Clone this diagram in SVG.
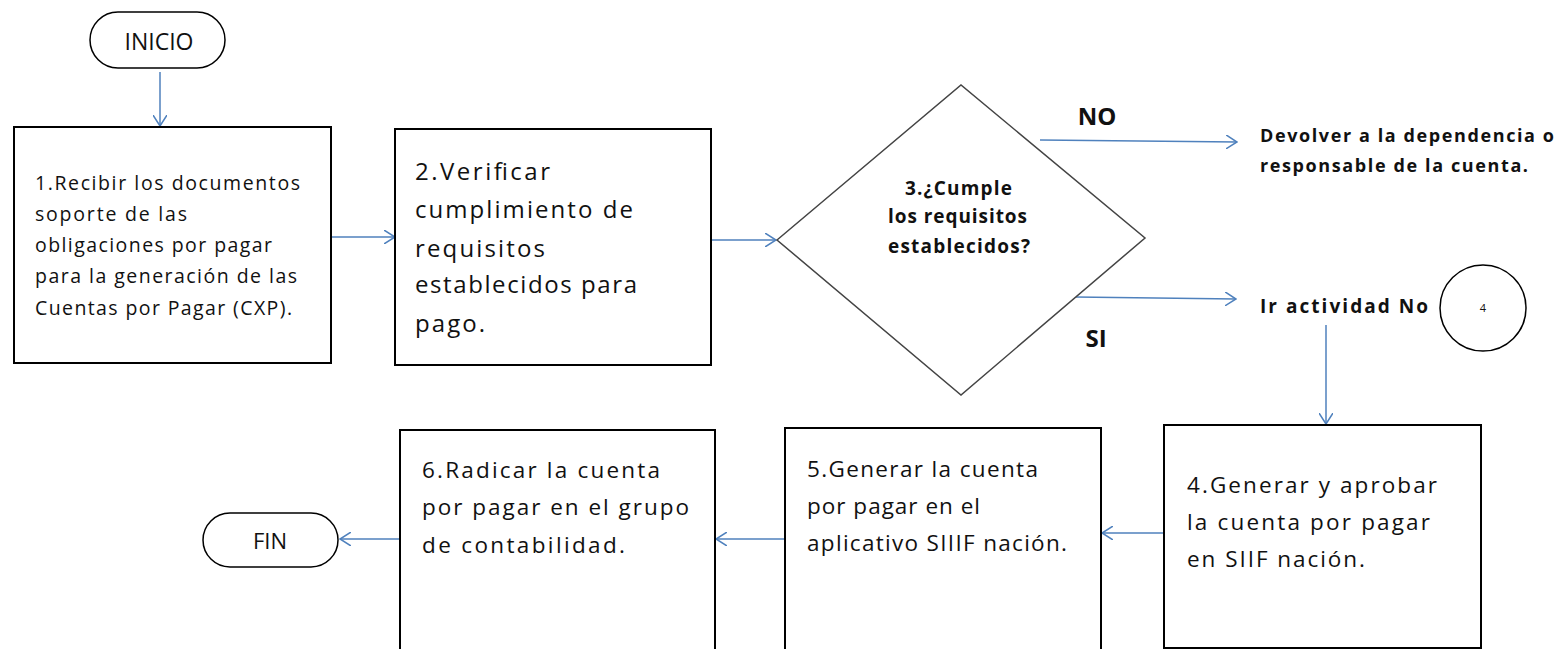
<svg xmlns="http://www.w3.org/2000/svg" width="1561" height="649" viewBox="0 0 1561 649">
<style>
.box{fill:#fff;stroke:#000;stroke-width:2}
.term{fill:#fff;stroke:#000;stroke-width:1.5}
.t{font-family:"Open Sans","Liberation Sans",Arial,sans-serif;fill:#111}
.b{font-family:"Open Sans","Liberation Sans",Arial,sans-serif;fill:#111;font-weight:bold}
.c{stroke:#4F81BD;stroke-width:1.5;fill:none;marker-end:url(#ah)}
</style>
<defs>
<marker id="ah" viewBox="0 0 12 14" refX="11" refY="7" markerWidth="12" markerHeight="14" markerUnits="userSpaceOnUse" orient="auto">
<path d="M0,0 L11,7 L0,14" fill="none" stroke="#4F81BD" stroke-width="1.5"/>
</marker>
</defs>
<g id="connectors">
<line class="c" x1="160" y1="72" x2="160" y2="126"/>
<line class="c" x1="331" y1="237" x2="395" y2="237"/>
<line class="c" x1="711" y1="240" x2="776" y2="240"/>
<line class="c" x1="1040" y1="140" x2="1237" y2="142"/>
<line class="c" x1="1075" y1="297" x2="1236" y2="299"/>
<line class="c" x1="1326" y1="325" x2="1326" y2="424"/>
<line class="c" x1="1164" y1="533" x2="1102" y2="533"/>
<line class="c" x1="785" y1="539" x2="716" y2="539"/>
<line class="c" x1="400" y1="539" x2="340" y2="539"/>
</g>
<g id="inicio">
<rect class="term" x="90" y="12" width="135" height="56" rx="28"/>
<text class="t" x="159" y="50" font-size="23" text-anchor="middle">INICIO</text>
</g>
<g id="n1">
<rect class="box" x="14" y="127" width="317" height="236"/>
<text class="t" font-size="19.5"><tspan x="35" y="190" textLength="265">1.Recibir los documentos</tspan><tspan x="35" y="221" textLength="152">soporte de las</tspan><tspan x="35" y="252" textLength="237">obligaciones por pagar</tspan><tspan x="35" y="283" textLength="262">para la generación de las</tspan><tspan x="35" y="315" textLength="257">Cuentas por Pagar (CXP).</tspan></text>
</g>
<g id="n2">
<rect class="box" x="395" y="129" width="316" height="236"/>
<text class="t" font-size="24"><tspan x="415" y="180" textLength="135">2.Verificar</tspan><tspan x="415" y="218" textLength="218">cumplimiento de</tspan><tspan x="415" y="257" textLength="130">requisitos</tspan><tspan x="415" y="293" textLength="222">establecidos para</tspan><tspan x="415" y="332" textLength="70">pago.</tspan></text>
</g>
<g id="n3">
<polygon points="777,240 961,85 1145,238 961,395" fill="#fff" stroke="#444" stroke-width="1.5"/>
<text class="b" font-size="19"><tspan x="905" y="195" textLength="107">3.¿Cumple</tspan><tspan x="888" y="223" textLength="139">los requisitos</tspan><tspan x="888" y="253" textLength="142">establecidos?</tspan></text>
</g>
<g id="labels">
<text class="b" x="1097" y="125" font-size="24" text-anchor="middle">NO</text>
<text class="b" x="1096" y="347" font-size="24" text-anchor="middle">SI</text>
</g>
<g id="devolver">
<text class="b" font-size="18"><tspan x="1260" y="142" textLength="294">Devolver a la dependencia  o</tspan><tspan x="1260" y="172" textLength="268">responsable  de la cuenta.</tspan></text>
</g>
<g id="ir">
<text class="b" x="1260" y="313" font-size="19" textLength="168">Ir actividad  No</text>
<ellipse cx="1483" cy="308" rx="43" ry="43" fill="#fff" stroke="#000" stroke-width="1.5"/>
<text class="t" x="1483" y="312" font-size="11" text-anchor="middle">4</text>
</g>
<g id="n4">
<rect class="box" x="1164" y="425" width="317" height="223"/>
<text class="t" font-size="22.5"><tspan x="1187" y="493" textLength="250">4.Generar y aprobar</tspan><tspan x="1187" y="530" textLength="243">la cuenta por pagar</tspan><tspan x="1187" y="567" textLength="178">en SIIF nación.</tspan></text>
</g>
<g id="n5">
<rect class="box" x="785" y="428" width="316" height="225"/>
<text class="t" font-size="22.5"><tspan x="807" y="477" textLength="231">5.Generar la cuenta</tspan><tspan x="807" y="514" textLength="173">por pagar en el</tspan><tspan x="807" y="551" textLength="260">aplicativo SIIIF nación.</tspan></text>
</g>
<g id="n6">
<rect class="box" x="400" y="430" width="315" height="225"/>
<text class="t" font-size="22.5"><tspan x="422" y="478" textLength="238">6.Radicar la cuenta</tspan><tspan x="422" y="515" textLength="267">por pagar en el grupo</tspan><tspan x="422" y="553" textLength="203">de contabilidad.</tspan></text>
</g>
<g id="fin">
<rect class="term" x="203" y="513" width="135" height="54" rx="27"/>
<text class="t" x="270" y="549" font-size="22" text-anchor="middle">FIN</text>
</g>
</svg>
